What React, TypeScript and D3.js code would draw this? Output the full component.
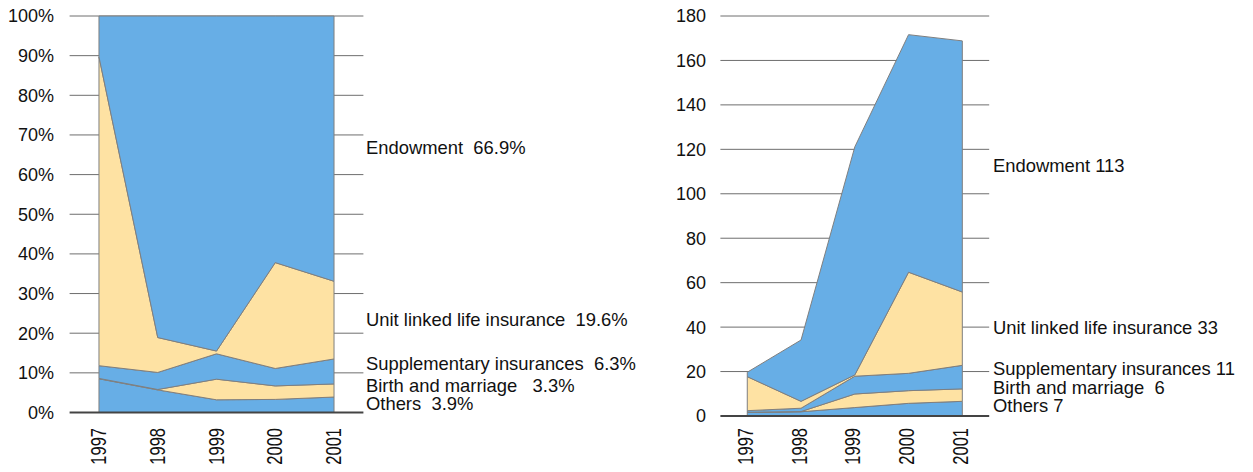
import React from "react";
import * as d3 from "d3";

const years = ["1997", "1998", "1999", "2000", "2001"];
const seriesKeys = ["Others", "Birth and marriage", "Supplementary insurances", "Unit linked life insurance", "Endowment"];

// Left chart: share of total (%)
const pctOthers = [8.5, 5.7, 3.2, 3.3, 3.9];
const pctBirth = [0.1, 0.1, 5.2, 3.4, 3.3];
const pctSupp = [3.2, 4.3, 6.4, 4.4, 6.3];
const pctUnit = [77.9, 8.8, 0.7, 26.7, 19.6];
const pctEndow = [10.3, 81.1, 84.5, 62.2, 66.9];
const pctTicks = [0, 10, 20, 30, 40, 50, 60, 70, 80, 90, 100];
const pctLabels = ["Others  3.9%", "Birth and marriage   3.3%", "Supplementary insurances  6.3%", "Unit linked life insurance  19.6%", "Endowment  66.9%"];

// Right chart: absolute values
const absOthers = [1.6, 1.9, 3.8, 5.7, 6.6];
const absBirth = [0.1, 0.1, 6.1, 5.7, 5.6];
const absSupp = [0.7, 1.5, 8.0, 7.8, 10.6];
const absUnit = [15.3, 3.1, 0.6, 45.5, 33.0];
const absEndow = [2.0, 27.6, 102.6, 106.9, 113.0];
const absTicks = [0, 20, 40, 60, 80, 100, 120, 140, 160, 180];
const absLabels = ["Others 7", "Birth and marriage  6", "Supplementary insurances 11", "Unit linked life insurance 33", "Endowment 113"];

const BLUE = "#67aee6";
const YELLOW = "#fee2a3";
const fills = [BLUE, YELLOW, BLUE, YELLOW, BLUE];
const FONT = "'Liberation Sans', Arial, sans-serif";

type ChartProps = {
  x0: number; x1: number; yTop: number; yBottom: number; maxV: number;
  series: number[][]; ticks: number[]; tickFmt: (v: number) => string;
  tickX: number; labels: string[]; labelX: number; labelY: number[]; yearDx: number;
};

function Chart(p: ChartProps) {
  const rows = years.map((y, i) => {
    const r: any = { year: y };
    seriesKeys.forEach((k, j) => (r[k] = p.series[j][i]));
    return r;
  });
  const stacked = d3.stack<any>().keys(seriesKeys)(rows);
  const x = d3.scalePoint<string>().domain(years).range([p.x0, p.x1]).padding(0.5);
  const y = d3.scaleLinear().domain([0, p.maxV]).range([p.yBottom, p.yTop]);
  const area = d3
    .area<any>()
    .x((d) => x(d.data.year)!)
    .y0((d) => y(d[0]))
    .y1((d) => y(d[1]));
  return (
    <g fontFamily={FONT} fill="#111">
      {p.ticks.map((t) =>
        t === 0 ? null : (
          <line key={t} x1={p.x0} x2={p.x1} y1={y(t)} y2={y(t)} stroke="#6e6e6e" strokeWidth={1} />
        )
      )}
      {stacked.map((s, i) => (
        <path key={s.key} d={area(s as any)!} fill={fills[i]} stroke="#7f7f7f" strokeWidth={1} />
      ))}
      <line x1={p.x0} x2={p.x1} y1={y(0)} y2={y(0)} stroke="#444" strokeWidth={2} />
      {p.ticks.map((t) => (
        <text key={t} x={p.tickX} y={y(t)} dy="0.36em" textAnchor="end" fontSize={18}>
          {p.tickFmt(t)}
        </text>
      ))}
      {years.map((yr) => (
        <text
          key={yr}
          transform={`translate(${x(yr)! + p.yearDx},428) rotate(-90) scale(1,1.3)`}
          textAnchor="end"
          fontSize={16.5}
        >
          {yr}
        </text>
      ))}
      {p.labels.map((l, i) => (
        <text key={l} x={p.labelX} y={p.labelY[i]} fontSize={18.4} style={{ whiteSpace: "pre" }}>
          {l}
        </text>
      ))}
    </g>
  );
}

export default function App() {
  return (
    <svg width={1253} height={472} style={{ position: "absolute", left: 0, top: 0, background: "#fff" }}>
      <Chart
        x0={69.6}
        x1={363.4}
        yTop={16}
        yBottom={412.5}
        maxV={100}
        series={[pctOthers, pctBirth, pctSupp, pctUnit, pctEndow]}
        ticks={pctTicks}
        tickFmt={(v) => `${v}%`}
        tickX={54}
        labels={pctLabels}
        labelX={366}
        labelY={[410, 391.5, 370, 326, 154]}
        yearDx={7}
      />
      <Chart
        x0={720.4}
        x1={989.2}
        yTop={16}
        yBottom={416}
        maxV={180}
        series={[absOthers, absBirth, absSupp, absUnit, absEndow]}
        ticks={absTicks}
        tickFmt={(v) => `${v}`}
        tickX={706}
        labels={absLabels}
        labelX={993}
        labelY={[411.5, 393.5, 374.5, 333.5, 171.5]}
        yearDx={5.5}
      />
    </svg>
  );
}
